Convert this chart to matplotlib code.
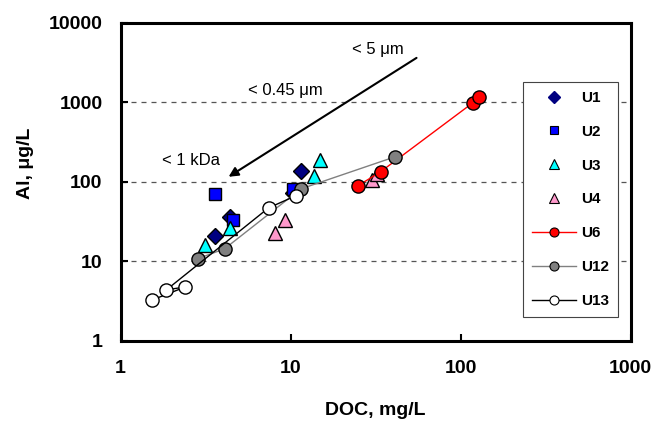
import matplotlib.pyplot as plt
from matplotlib.lines import Line2D

plt.rcParams['font.family'] = ['Liberation Sans', 'DejaVu Sans']

# --- data (DOC mg/L, Al ug/L) ---
u1_doc = [3.57, 4.38, 10.3, 11.5]
u1_al = [20.9, 36.3, 72, 137]
u2_doc = [3.57, 4.56, 10.4]
u2_al = [70.6, 33.3, 81.7]
u3_doc = [3.12, 4.38, 13.8, 14.8]
u3_al = [16.1, 26.4, 119, 189]
u4_doc = [8.05, 9.22, 29.9, 32.1]
u4_al = [22.8, 33.3, 106, 126]
u6_doc = [24.8, 33.8, 117.7, 127.6]
u6_al = [89, 134, 986, 1173]
u12_doc = [2.84, 4.09, 11.5, 40.9]
u12_al = [10.8, 14.4, 81.7, 206]
u13_doc = [1.54, 2.41, 1.86, 7.42, 10.7]
u13_al = [3.28, 4.78, 4.38, 47.1, 66.7]

fig = plt.figure(figsize=(6.55, 4.24), dpi=100)
ax = fig.add_axes([0.184, 0.196, 0.779, 0.75])

mk = dict(markeredgecolor='black', markeredgewidth=1.0, linestyle='none')
ax.plot(u1_doc, u1_al, marker='D', ms=8.5, color='#000080', **mk)
ax.plot(u2_doc, u2_al, marker='s', ms=8, color='#0000FF', **mk)
ax.plot(u3_doc, u3_al, marker='^', ms=10.5, color='#00FFFF', **mk)
ax.plot(u4_doc, u4_al, marker='^', ms=10, color='#FF99CC', **mk)
ax.plot(u6_doc, u6_al, '-', color='red', lw=1, marker='o', ms=9.5,
        mfc='red', mec='black', mew=1.0)
ax.plot(u12_doc, u12_al, '-', color='#808080', lw=1, marker='o', ms=9.5,
        mfc='#808080', mec='black', mew=1.0)
ax.plot(u13_doc, u13_al, '-', color='black', lw=1, marker='o', ms=9.5,
        mfc='white', mec='black', mew=1.0)

ax.set_xscale('log')
ax.set_yscale('log')
ax.set_xlim(1, 1000)
ax.set_ylim(1, 10000)
ax.minorticks_off()
ax.set_xticks([1, 10, 100, 1000])
ax.set_xticklabels(['1', '10', '100', '1000'])
ax.set_yticks([1, 10, 100, 1000, 10000])
ax.set_yticklabels(['1', '10', '100', '1000', '10000'])
ax.tick_params(direction='in', length=5, width=1.5, labelsize=14)
ax.tick_params(axis='x', pad=14)
ax.tick_params(axis='y', pad=13)
for lab in ax.get_xticklabels() + ax.get_yticklabels():
    lab.set_fontweight('bold')
for s in ax.spines.values():
    s.set_linewidth(2.2)

for yv in [10, 100, 1000]:
    ax.axhline(yv, color='#555555', lw=0.9, ls=(0, (4, 4)), zorder=0)

ax.set_xlabel('DOC, mg/L', fontsize=14, fontweight='bold', labelpad=18)
ax.set_ylabel('Al, μg/L', fontsize=14, fontweight='bold')
ax.yaxis.set_label_coords(-0.17, 0.56)

# arrow and size-fraction labels
ax.annotate('', xy=(4.32, 116), xytext=(55, 3630),
            arrowprops=dict(arrowstyle='-|>', color='black', lw=1.5,
                            mutation_scale=14, shrinkA=0, shrinkB=0))
bb = dict(facecolor='white', edgecolor='none', pad=1)
ax.text(32.5, 4580, '< 5 μm', fontsize=12, ha='center', va='center', bbox=bb)
ax.text(9.35, 1395, '< 0.45 μm', fontsize=12, ha='center', va='center', bbox=bb)
ax.text(2.58, 184, '< 1 kDa', fontsize=12, ha='center', va='center', bbox=bb)

# legend
handles = [
    Line2D([], [], ls='none', marker='D', ms=6, mfc='#000080', mec='#000080'),
    Line2D([], [], ls='none', marker='s', ms=6, mfc='#0000FF', mec='black', mew=0.8),
    Line2D([], [], ls='none', marker='^', ms=7, mfc='#00FFFF', mec='black', mew=0.8),
    Line2D([], [], ls='none', marker='^', ms=7, mfc='#FF99CC', mec='black', mew=0.8),
    Line2D([], [], color='red', lw=1, marker='o', ms=6.5, mfc='red', mec='black', mew=0.8),
    Line2D([], [], color='#808080', lw=1, marker='o', ms=6.5, mfc='#808080', mec='black', mew=0.8),
    Line2D([], [], color='black', lw=1, marker='o', ms=6.5, mfc='white', mec='black', mew=0.8),
]
labels = ['U1', 'U2', 'U3', 'U4', 'U6', 'U12', 'U13']
leg = ax.legend(handles, labels, loc='upper left', bbox_to_anchor=(0.788, 0.815),
                frameon=True, fancybox=False, edgecolor='#444444',
                prop=dict(weight='bold', size=11), handlelength=2.9,
                handletextpad=0.3, labelspacing=1.3, borderpad=0.6,
                borderaxespad=0, framealpha=1)
leg.get_frame().set_linewidth(0.8)

fig.savefig('out.png', dpi=100)
